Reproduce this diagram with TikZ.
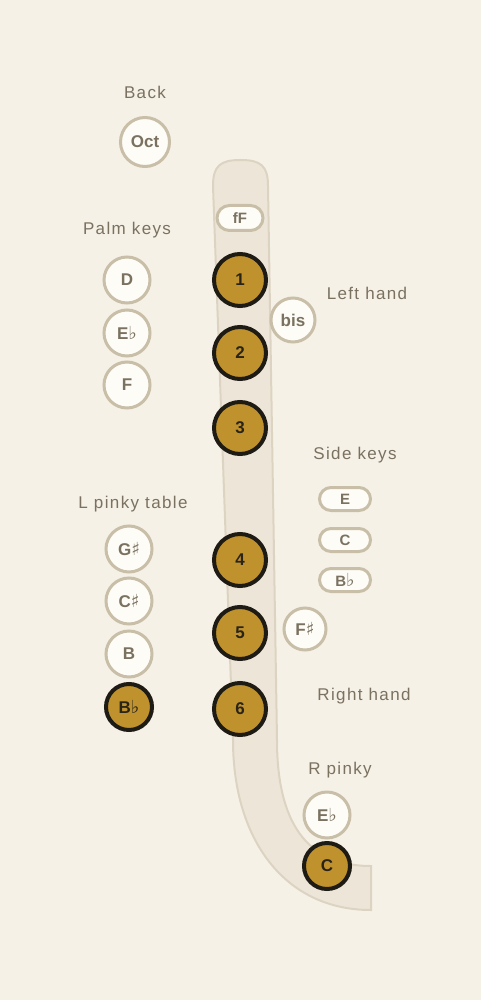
\documentclass[tikz,border=0pt]{standalone}
\usetikzlibrary{shapes.misc}
\usepackage{fontspec}
\setmainfont{Liberation Sans}
\newfontfamily\lblfont[LetterSpace=8]{Liberation Sans}
\newfontfamily\symfont{DejaVu Sans}
\newcommand{\shp}{{\symfont\fontsize{18}{18}\selectfont\mdseries ♯}}
\newcommand{\flt}{{\symfont\fontsize{18}{18}\selectfont\mdseries ♭}}
\definecolor{bg}{HTML}{F5F1E6}
\definecolor{bodyfill}{HTML}{EDE6D8}
\definecolor{bodyline}{HTML}{DDD3C2}
\definecolor{openfill}{HTML}{FEFCF6}
\definecolor{openline}{HTML}{C9BFA8}
\definecolor{opentext}{HTML}{7A7160}
\definecolor{gold}{HTML}{C0922E}
\definecolor{darkline}{HTML}{1E1A14}
\definecolor{darktext}{HTML}{2A2418}
\definecolor{lbl}{HTML}{7A7160}
\begin{document}
\begin{tikzpicture}[x=1pt,y=-1pt,
  openkey/.style={circle,draw=openline,fill=openfill,line width=3pt,minimum size=#1,inner sep=0pt,text=opentext,font=\fontsize{17}{17}\selectfont\bfseries},
  openkey/.default=46pt,
  closedkey/.style={circle,draw=darkline,fill=gold,line width=4pt,minimum size=#1,inner sep=0pt,text=darktext,font=\fontsize{17}{17}\selectfont\bfseries},
  closedkey/.default=52pt,
  pillkey/.style={rounded rectangle,draw=openline,fill=openfill,line width=3pt,minimum width=#1,minimum height=23pt,inner sep=0pt,text=opentext,font=\fontsize{15}{15}\selectfont\bfseries},
  pillkey/.default=51pt,
  grplabel/.style={text=lbl,font=\lblfont\fontsize{17}{17}\selectfont,inner sep=0pt,anchor=base}]
\useasboundingbox (0,0) rectangle (481,1000);
\fill[bg] (0,0) rectangle (481,1000);
% body
\draw[bodyline,fill=bodyfill,line width=2pt]
  (213,186) .. controls (213,166) and (220,160) .. (240.5,160)
  .. controls (261,160) and (268,166) .. (268,186)
  -- (277,740) .. controls (277,820) and (305,866) .. (371,866)
  -- (371,910) .. controls (285,910) and (233,840) .. (233,740) -- cycle;
% labels
\node[grplabel] (lback) at (145,99) {Back};
\node[grplabel] (lpalm) at (127,235) {Palm keys};
\node[grplabel] (llh) at (367,299) {Left hand};
\node[grplabel] (lside) at (355,459) {Side keys};
\node[grplabel] (lpinky) at (133,508) {L pinky table};
\node[grplabel] (lrh) at (364,700) {Right hand};
\node[grplabel] (lrp) at (340,774) {R pinky};
% back
\node[openkey=49pt] (oct) at (145,142) {Oct};
% fF
\node[pillkey=46pt,minimum height=25pt] (ff) at (240,218) {fF};
% palm
\node[openkey] (d) at (127,280) {D};
\node[openkey] (eb1) at (127,333) {E\flt};
\node[openkey] (f) at (127,385) {F};
% left hand
\node[closedkey] (k1) at (240,280) {1};
\node[openkey=44pt] (bis) at (293,320) {bis};
\node[closedkey] (k2) at (240,353) {2};
\node[closedkey] (k3) at (240,428) {3};
% side keys
\node[pillkey] (se) at (345,499) {E};
\node[pillkey] (sc) at (345,540) {C};
\node[pillkey] (sbb) at (345,580) {B\flt};
% L pinky
\node[openkey] (gs) at (129,549) {G\shp};
\node[openkey] (cs) at (129,601) {C\shp};
\node[openkey] (b) at (129,654) {B};
\node[closedkey=46pt] (bb) at (129,707) {B\flt};
% right hand
\node[closedkey] (k4) at (240,560) {4};
\node[closedkey] (k5) at (240,633) {5};
\node[openkey=42pt] (fs) at (305,629) {F\shp};
\node[closedkey] (k6) at (240,709) {6};
% R pinky
\node[openkey] (eb2) at (327,815) {E\flt};
\node[closedkey=46pt] (rc) at (327,866) {C};
\end{tikzpicture}
\end{document}
